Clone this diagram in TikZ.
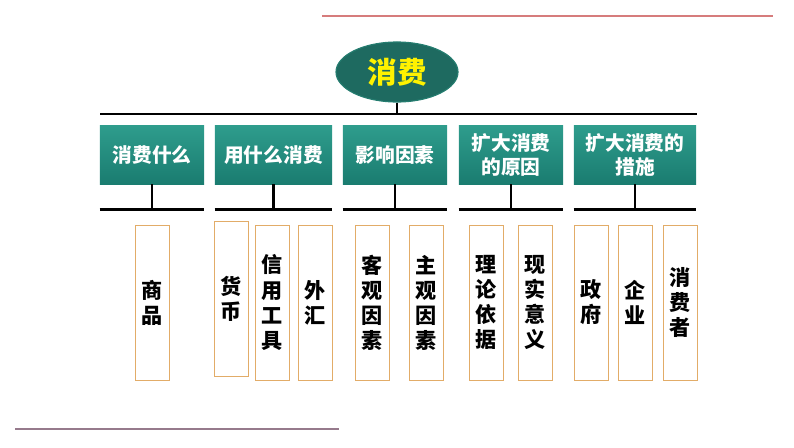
\documentclass[tikz,border=0pt]{standalone}
\usepackage{fontspec}
\usepackage{xcolor}
\usepackage{tikz}
\usetikzlibrary{shapes.geometric, positioning, calc}
\newfontfamily\cjk{Noto Sans CJK SC}

\definecolor{tealdark}{RGB}{30,106,96}
\definecolor{tealtop}{RGB}{46,156,140}
\definecolor{tealbot}{RGB}{26,124,112}
\definecolor{boxorange}{RGB}{226,172,104}
\definecolor{rulered}{RGB}{214,124,124}
\definecolor{rulegrey}{RGB}{150,122,140}

\begin{document}
\begin{tikzpicture}[
            x=0.025cm, y=-0.025cm,
            root/.style={ellipse, draw=tealtop!80!black, thick, fill=tealdark, minimum width=3.05cm, minimum height=1.5cm, text=yellow, font=\cjk\bfseries\fontsize{21}{24}\selectfont},
            topbox/.style={rectangle, top color=tealtop, bottom color=tealbot, draw=none, minimum height=1.45cm, text=white, align=center, font=\cjk\bfseries\fontsize{14}{17}\selectfont},
            leaf/.style={rectangle, draw=boxorange, line width=0.6pt, fill=white, minimum width=0.85cm, minimum height=3.875cm, align=center, font=\cjk\bfseries\fontsize{15}{17.8}\selectfont},
            bus/.style={draw, line width=1.8pt}
        ]
        \useasboundingbox (0,0) rectangle (794,447);

        % --- Rules ---
        \draw[rulered, line width=0.8pt] (322,16) -- (773,16);
        \draw[rulegrey, line width=1.2pt] (15,429) -- (339,429);

        % --- Root ---
        \node[root] (consume) at (397,72) {消费};
        \coordinate (busL) at (100,114);
        \coordinate (busR) at (697,114);
        \draw[bus] (busL) -- (busR);
        \draw[bus] (consume.south) -- (consume.south |- busL);

        % --- Topics ---
        \node[topbox, minimum width=2.6cm] (what) at (152,155) {消费什么};
        \node[topbox, minimum width=2.925cm] (means) at (273.5,155) {用什么消费};
        \node[topbox, minimum width=2.6cm] (factor) at (395,155) {影响因素};
        \node[topbox, minimum width=2.6cm] (reason) at (511,155) {扩大消费\\的原因};
        \node[topbox, minimum width=3.05cm] (measure) at (635,155) {扩大消费的\\措施};

        % --- Sub buses ---
        \foreach \t in {what, means, factor, reason, measure}{
            \draw[bus] (\t.south) -- ($(\t.south)+(0,25)$);
            \draw[bus] ($(\t.south west)+(0,25)$) -- ($(\t.south east)+(0,25)$);
        }

        % --- Leaves ---
        \node[leaf] (goods) at (152,302.5) {商\\品};
        \node[leaf] (money) at (231,299) {货\\币};
        \node[leaf] (credit) at (272.5,302.5) {信\\用\\工\\具};
        \node[leaf] (forex) at (315,302.5) {外\\汇};
        \node[leaf] (objective) at (372.5,302.5) {客\\观\\因\\素};
        \node[leaf] (subjective) at (426.5,302.5) {主\\观\\因\\素};
        \node[leaf] (theory) at (486,302.5) {理\\论\\依\\据};
        \node[leaf] (reality) at (535,302.5) {现\\实\\意\\义};
        \node[leaf] (govt) at (591,302.5) {政\\府};
        \node[leaf] (firm) at (635.5,302.5) {企\\业};
        \node[leaf] (consumer) at (680,302.5) {消\\费\\者};

\end{tikzpicture}
\end{document}
